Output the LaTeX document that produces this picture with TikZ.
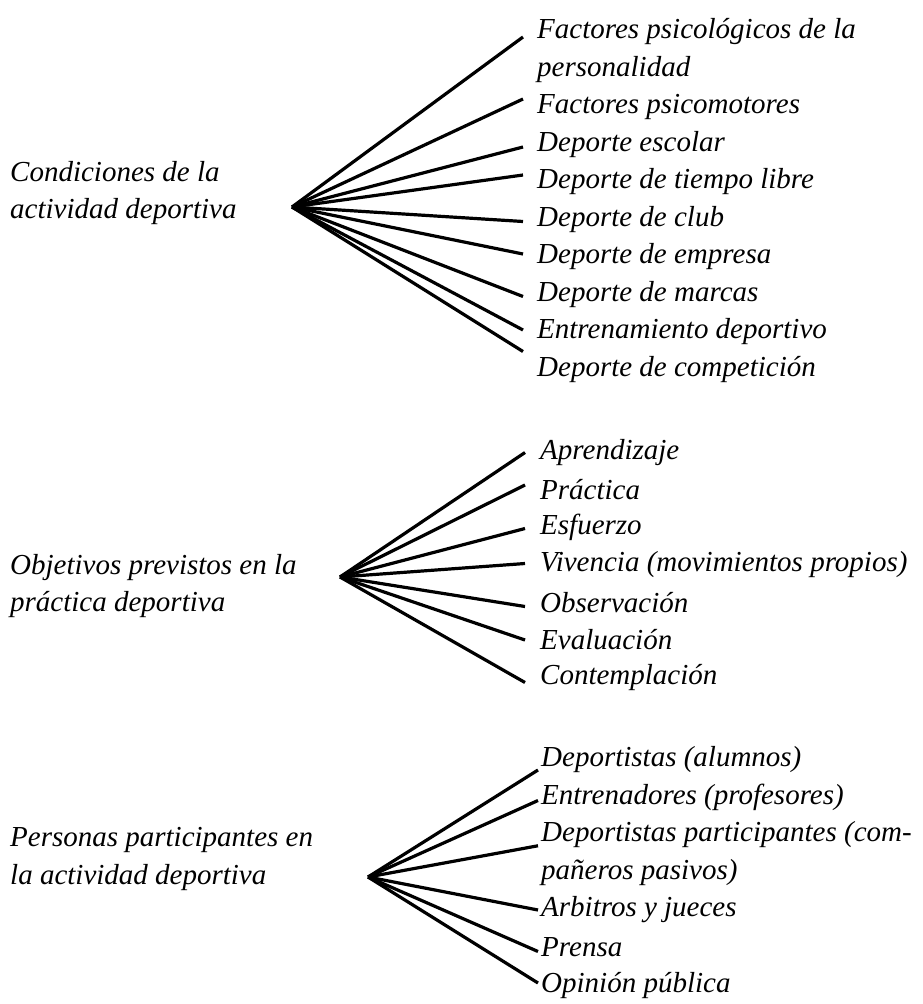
\documentclass[tikz,border=0pt]{standalone}
\usepackage{fontspec}
\setmainfont{Liberation Serif}

\tikzset{
  rama/.style={line width=3.2pt},
  etiqueta/.style={font=\fontsize{29}{37.5}\selectfont\itshape, align=left, inner sep=0pt, anchor=west},
}

\begin{document}
\begin{tikzpicture}[x=1pt,y=-1pt]
\useasboundingbox (0,0) rectangle (923,1004);

% Condiciones de la actividad deportiva
\node[etiqueta] (cond) at (10,193) {Condiciones de la\\actividad deportiva};
\coordinate (vcond) at (292,207);
\foreach \n/\y/\dy/\t in {
    a/50.75/13.75/{Factores psicológicos de la\\personalidad},
    b/107/8/{Factores psicomotores},
    c/144.5/-2.5/{Deporte escolar},
    d/182/7/{Deporte de tiempo libre},
    e/219.5/-2/{Deporte de club},
    f/257/3/{Deporte de empresa},
    g/294.5/-2/{Deporte de marcas},
    h/332/2/{Entrenamiento deportivo},
    i/369.5/18/{Deporte de competición}}{
  \node[etiqueta, inner xsep=14pt] (cond\n) at (523,\y) {\t};
  \draw[rama] (vcond) -- ([yshift=\dy pt]cond\n.west);
}

% Objetivos previstos
\node[etiqueta] (obj) at (10,586) {Objetivos previstos en la\\práctica deportiva};
\coordinate (vobj) at (340,577);
\foreach \n/\y/\dy/\t in {
    a/452.5/0/{Aprendizaje},
    b/490/5/{Práctica},
    c/527.5/-1/{Esfuerzo},
    d/565/1.5/{Vivencia (movimientos propios)},
    e/602.5/-4/{Observación},
    f/640/0/{Evaluación},
    g/677.5/-5/{Contemplación}}{
  \node[etiqueta, inner xsep=15pt] (obj\n) at (525,\y) {\t};
  \draw[rama] (vobj) -- ([yshift=\dy pt]obj\n.west);
}

% Personas participantes
\node[etiqueta] (pers) at (10,859) {Personas participantes en\\la actividad deportiva};
\coordinate (vpers) at (368,877);
\foreach \n/\y/\dy/\t in {
    a/760/-10/{Deportistas (alumnos)},
    b/797.5/-3/{Entrenadores (profesores)},
    c/853.75/8/{Deportistas participantes (com-\\pañeros pasivos)},
    d/910/0/{Arbitros y jueces},
    e/947.5/-4/{Prensa},
    f/985/2/{Opinión pública}}{
  \node[etiqueta, inner xsep=3pt] (pers\n) at (538,\y) {\t};
  \draw[rama] (vpers) -- ([yshift=\dy pt]pers\n.west);
}
\end{tikzpicture}
\end{document}
